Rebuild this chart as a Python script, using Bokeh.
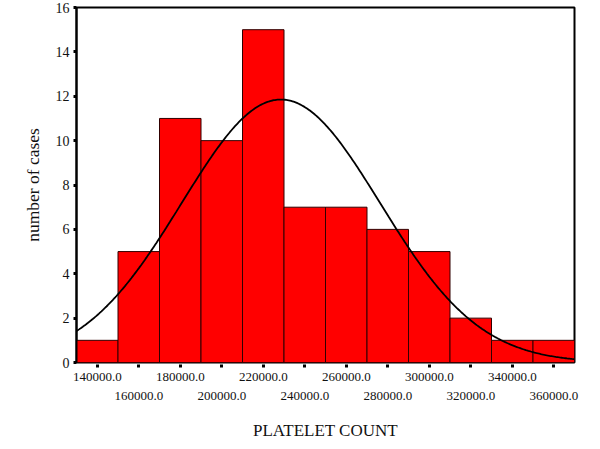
import numpy as np
from bokeh.plotting import figure
from bokeh.models import Range1d, LinearAxis, FixedTicker
from bokeh.embed import file_html
from bokeh.resources import INLINE

# ---- data ----
bin_centers = [140000, 160000, 180000, 200000, 220000, 240000,
               260000, 280000, 300000, 320000, 340000, 360000]
counts = [1, 5, 11, 10, 15, 7, 7, 6, 5, 2, 1, 1]
bin_width = 20000
curve_mean = 228500
curve_sd = 47800
x_ticks_row1 = [140000, 180000, 220000, 260000, 300000, 340000]
x_ticks_row2 = [160000, 200000, 240000, 280000, 320000, 360000]
y_ticks = [0, 2, 4, 6, 8, 10, 12, 14, 16]
x_title = "PLATELET COUNT"
y_title = "number of cases"

FONT = "Liberation Serif"
TXT = "#111111"

n_cases = sum(counts)

p = figure(width=600, height=449,
           x_range=Range1d(130000, 370000), y_range=Range1d(0, 16),
           output_backend="svg", toolbar_location=None,
           x_axis_location=None, y_axis_location="left",
           min_border_left=76, min_border_right=26,
           min_border_top=7, min_border_bottom=87)
p.background_fill_color = "white"
p.border_fill_color = "white"
p.outline_line_color = "black"
p.outline_line_width = 2
p.xgrid.grid_line_color = None
p.ygrid.grid_line_color = None

# bars
p.vbar(x=bin_centers, top=counts, bottom=0, width=bin_width,
       fill_color="#FF0000", line_color="#300000", line_width=1)

# fitted normal curve
xs = np.linspace(130000, 370000, 400)
ys = n_cases * bin_width / (curve_sd * np.sqrt(2 * np.pi)) * \
    np.exp(-0.5 * ((xs - curve_mean) / curve_sd) ** 2)
p.line(xs, ys, line_color="black", line_width=1.8)

# y axis
ya = p.yaxis[0]
ya.ticker = FixedTicker(ticks=y_ticks)
ya.axis_line_color = "black"
ya.axis_line_width = 2
ya.major_tick_in = 0
ya.major_tick_out = 3
ya.major_tick_line_width = 3
ya.minor_tick_line_color = None
ya.major_label_standoff = 4
ya.major_label_text_font = FONT
ya.major_label_text_font_size = "14px"
ya.major_label_text_color = TXT
ya.axis_label = y_title
ya.axis_label_text_font = FONT
ya.axis_label_text_font_size = "17.5px"
ya.axis_label_text_font_style = "normal"
ya.axis_label_text_color = TXT
ya.axis_label_standoff = 10

# x axis row 1 (tick dots + odd labels)
lab1 = {v: (f"{v:.1f}" if v in x_ticks_row1 else "") for v in bin_centers}
xa1 = LinearAxis(ticker=FixedTicker(ticks=bin_centers),
                 major_label_overrides=lab1)
xa1.axis_line_color = None
xa1.major_tick_in = -2
xa1.major_tick_out = 5
xa1.major_tick_line_width = 3
xa1.minor_tick_line_color = None
xa1.major_label_standoff = 5
xa1.major_label_text_font = FONT
xa1.major_label_text_font_size = "13px"
xa1.major_label_text_color = TXT
p.add_layout(xa1, "below")

# x axis row 2 (even labels + title)
lab2 = {v: f"{v:.1f}" for v in x_ticks_row2}
xa2 = LinearAxis(ticker=FixedTicker(ticks=x_ticks_row2),
                 major_label_overrides=lab2)
xa2.axis_line_color = None
xa2.major_tick_line_color = None
xa2.major_tick_in = 0
xa2.major_tick_out = 0
xa2.minor_tick_line_color = None
xa2.major_label_standoff = 8
xa2.major_label_text_font = FONT
xa2.major_label_text_font_size = "13px"
xa2.major_label_text_color = TXT
xa2.axis_label = x_title
xa2.axis_label_text_font = FONT
xa2.axis_label_text_font_size = "17px"
xa2.axis_label_text_font_style = "normal"
xa2.axis_label_text_color = TXT
xa2.axis_label_standoff = 18
p.add_layout(xa2, "below")

open("out.html", "w").write(file_html(p, INLINE))
